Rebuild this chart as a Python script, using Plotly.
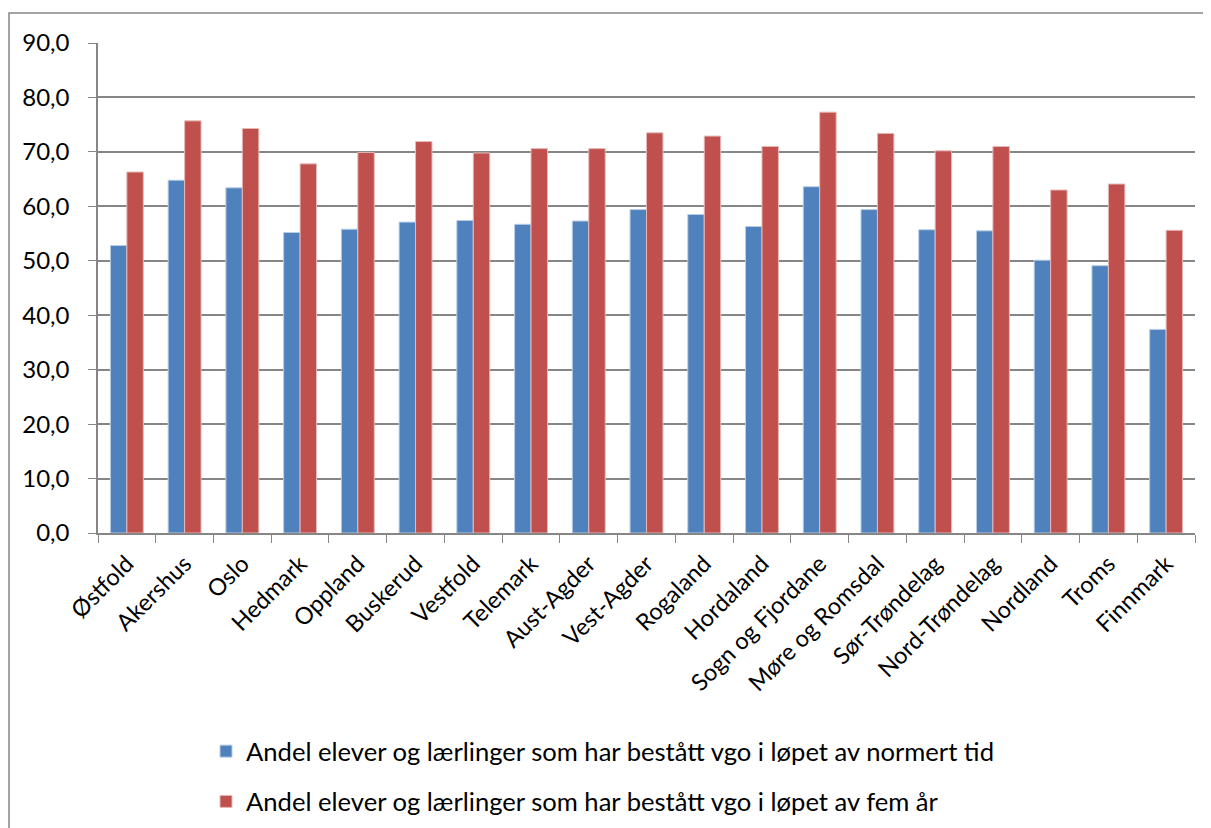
import plotly.graph_objects as go

categories = ["Østfold", "Akershus", "Oslo", "Hedmark", "Oppland", "Buskerud", "Vestfold",
              "Telemark", "Aust-Agder", "Vest-Agder", "Rogaland", "Hordaland",
              "Sogn og Fjordane", "Møre og Romsdal", "Sør-Trøndelag", "Nord-Trøndelag",
              "Nordland", "Troms", "Finnmark"]
normert_tid = [52.8, 64.8, 63.4, 55.2, 55.8, 57.1, 57.4, 56.7, 57.3, 59.4, 58.5, 56.3,
               63.6, 59.4, 55.7, 55.5, 50.1, 49.1, 37.4]
fem_aar = [66.3, 75.7, 74.3, 67.8, 69.9, 71.9, 69.8, 70.6, 70.6, 73.5, 72.9, 71.0,
           77.3, 73.4, 70.2, 71.0, 63.0, 64.1, 55.6]
series_names = ["Andel elever og lærlinger som har bestått vgo i løpet av normert tid",
                "Andel elever og lærlinger som har bestått vgo i løpet av fem år"]

FONT = "Lato"
OFF = 8  # page body margin
W, H = 1203, 820
# plot area in screen coordinates
PX0, PX1, PY0, PY1 = 98, 1195, 43, 533
L = PX0 - OFF
T = PY0 - OFF
R = OFF + W - PX1
B = OFF + H - PY1
pw = PX1 - PX0
ph = PY1 - PY0

fig = go.Figure()
fig.add_trace(go.Bar(x=categories, y=normert_tid, name=series_names[0], legendgroup="a",
                     marker=dict(color="#4F81BD", line=dict(color="#B9CDE5", width=1))))
fig.add_trace(go.Bar(x=categories, y=fem_aar, name=series_names[1], legendgroup="b",
                     marker=dict(color="#C0504D", line=dict(color="#E6B9B8", width=1))))

fig.add_shape(type="rect", xref="paper", yref="paper",
              x0=(9 - PX0) / pw, x1=(W + 40 - PX0) / pw,
              y0=-(H + 40 - PY1) / ph, y1=1 + (PY0 - 13) / ph,
              line=dict(color="#868686", width=1.5), fillcolor="rgba(0,0,0,0)", layer="below")

fig.update_layout(
    width=W, height=H,
    margin=dict(l=L, r=R, t=T, b=B, autoexpand=False),
    paper_bgcolor="white", plot_bgcolor="white",
    barmode="group", bargap=0.43, bargroupgap=0.0,
    separators=", ",
    font=dict(family=FONT, size=24, color="black"),
    showlegend=True,
    legend=dict(x=(206 - PX0) / pw, y=(PY1 - 728) / ph, xanchor="left", yanchor="top",
                orientation="v", traceorder="grouped", tracegroupgap=14,
                font=dict(family=FONT, size=25.6, color="black"),
                itemwidth=30, bgcolor="rgba(0,0,0,0)"),
    xaxis=dict(tickangle=-45, tickson="boundaries", ticks="outside", ticklen=8,
               tickcolor="#868686", showline=True, linecolor="#868686", linewidth=1.5,
               showgrid=False, ticklabelstandoff=6,
               tickfont=dict(family=FONT, size=23.5)),
    yaxis=dict(range=[0, 90], dtick=10, tickformat=".1f", ticks="outside", ticklen=8,
               tickcolor="#868686", showline=True, linecolor="#868686", linewidth=1.5,
               showgrid=True, gridcolor="#868686", gridwidth=1.5, zeroline=False,
               ticklabelstandoff=14,
               tickfont=dict(family=FONT, size=24)),
)

fig.write_html("out.html")
